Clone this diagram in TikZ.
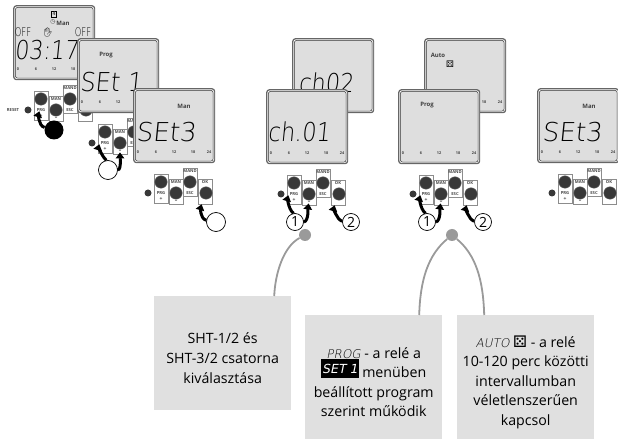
\documentclass[tikz,border=0pt]{standalone}
\usepackage{fontspec}
\setmainfont{Open Sans}
\newfontfamily\lcdfont[FakeSlant=0.1]{DejaVu Sans ExtraLight}
\newfontfamily\lcdtime[FakeSlant=0.1,FakeStretch=0.85]{DejaVu Sans ExtraLight}
\newfontfamily\lcdset[FakeSlant=0.1,FakeStretch=0.92]{DejaVu Sans ExtraLight}
\newfontfamily\lcdch[FakeSlant=0.1,FakeStretch=0.86]{DejaVu Sans ExtraLight}
\newfontfamily\lcdoff[FakeStretch=0.7]{DejaVu Sans ExtraLight}
\newfontfamily\lcditalic[FakeSlant=0.2]{DejaVu Sans ExtraLight}
\newfontfamily\symfont{DejaVu Sans}
\newfontfamily\emojifont{Noto Emoji}
\usetikzlibrary{arrows.meta}
\definecolor{lcdgray}{HTML}{DEDEDE}
\definecolor{boxgray}{HTML}{E0E0E0}
\definecolor{linkgray}{HTML}{9A9A9A}
\tikzset{
  x=1pt,y=-1pt,
  shellouter/.style={anchor=north west,rounded corners=3pt,fill=black!60,minimum width=82pt,minimum height=75pt,inner sep=0pt},
  shellmid/.style={anchor=north west,rounded corners=2.5pt,fill=white,minimum width=79.6pt,minimum height=72.6pt,inner sep=0pt},
  shellinner/.style={anchor=north west,rounded corners=2pt,fill=lcdgray,draw=black!80,line width=.5pt,minimum width=77.6pt,minimum height=70.6pt,inner sep=0pt},
  axislabel/.style={font=\bfseries\fontsize{3.8}{4}\selectfont,text=black!75,inner sep=0pt},
  modelabel/.style={font=\bfseries\fontsize{6}{7}\selectfont,text=black!75,inner sep=0pt},
  readout/.style={font=\lcdfont\fontsize{26}{26}\selectfont,inner sep=0pt,anchor=center},
  keybox/.style={anchor=north west,draw=black!45,line width=.8pt,fill=white,inner sep=0pt},
  keycap/.style={circle,fill=black!78,draw=black!60,line width=.4pt,minimum size=12.5pt,inner sep=0pt},
  keytext/.style={font=\bfseries\fontsize{4.2}{4.5}\selectfont,text=black!70,inner sep=0pt},
  leddot/.style={circle,fill=black!78,minimum size=7pt,inner sep=0pt},
  pressarrow/.style={line width=3pt,-{Triangle[length=6pt,width=8.5pt]},black},
  blackpress/.style={circle,fill=black,minimum size=19pt,inner sep=0pt},
  whitepress/.style={circle,draw=black,fill=white,line width=.7pt,minimum size=19pt,inner sep=0pt},
  stepmark/.style={circle,draw=black,fill=white,line width=.7pt,minimum size=17pt,inner sep=0pt,font=\fontsize{14}{14}\selectfont},
  infobox/.style={anchor=north west,fill=boxgray,minimum width=137pt,inner sep=0pt},
  infotext/.style={align=center,inner sep=0pt,font=\fontsize{14.2}{19.6}\selectfont},
  linkdot/.style={circle,fill=linkgray,minimum size=12pt,inner sep=0pt},
  linkline/.style={draw=linkgray,line width=1.8pt},
}
\newcommand{\lcdshell}[4]{% name, x, y, axis labels (1 all, 2 last two, 0 none)
  \begin{scope}[shift={(#2,#3)}]
    \node[shellouter] (#1-o) at (0,0) {};
    \node[shellmid] (#1-m) at (1.2,1.2) {};
    \node[shellinner] (#1-i) at (2.2,2.2) {};
    \ifnum#4=1
      \node[axislabel] (#1-a0) at (5,64) {0};
      \node[axislabel] (#1-a1) at (23,64) {6};
      \node[axislabel] (#1-a2) at (41,64) {12};
    \fi
    \ifnum#4>0
      \node[axislabel] (#1-a3) at (60,64) {18};
      \node[axislabel] (#1-a4) at (76,64) {24};
    \fi
  \end{scope}}
\newcommand{\keypad}[3]{% prefix, x, y of the screen
  \begin{scope}[shift={(#2,#3)}]
    \node[leddot] (#1-led) at (15,105) {};
    \node[keybox,minimum width=14pt,minimum height=29pt] (#1-bp) at (21,86) {};
    \node[keybox,minimum width=14pt,minimum height=25pt] (#1-bm) at (36,91) {};
    \node[keybox,minimum width=14pt,minimum height=28pt] (#1-bd) at (50,80) {};
    \node[keybox,minimum width=14pt,minimum height=25pt] (#1-bo) at (65,91) {};
    \node[keytext] (#1-t1) at (28,105) {PRG};
    \node[keytext,font=\bfseries\fontsize{5}{5}\selectfont] (#1-t2) at (28,111) {+};
    \node[keytext] (#1-t3) at (43,94) {MAN};
    \node[keytext,font=\bfseries\fontsize{5}{5}\selectfont] (#1-t4) at (43,113.5) {--};
    \node[keytext] (#1-t5) at (57,83) {MAND};
    \node[keytext] (#1-t6) at (57,105) {ESC};
    \node[keytext] (#1-t7) at (72,94) {OK};
    \node[keycap] (#1-prg) at (28,94) {};
    \node[keycap] (#1-man) at (43,105) {};
    \node[keycap] (#1-mand) at (57,94) {};
    \node[keycap] (#1-ok) at (73,105) {};
  \end{scope}}
\begin{document}
\begin{tikzpicture}
\useasboundingbox (0,0) rectangle (618,443);
% --- first sequence
\lcdshell{sa}{13}{5}{1}
\node[keytext,font=\bfseries\fontsize{5}{5}\selectfont,draw=black,line width=.4pt,inner sep=1pt] (sa-four) at (54,14) {4};
\node[modelabel,font=\symfont\fontsize{6}{6}\selectfont] (sa-clock) at (53,22) {◷};
\node[modelabel] (sa-man) at (63,23) {Man};
\node[font=\lcdoff\fontsize{12}{12}\selectfont,inner sep=0pt] (sa-off1) at (23,32) {OFF};
\node[font=\emojifont\fontsize{9}{9}\selectfont,inner sep=0pt] (sa-hand) at (48,32) {✋};
\node[font=\lcdoff\fontsize{12}{12}\selectfont,inner sep=0pt] (sa-off2) at (83,32) {OFF};
\node[readout,font=\lcdtime\fontsize{26}{26}\selectfont] (sa-time) at (46.5,50) {03:17};
\keypad{ka}{13}{5}
\node[keytext] (ka-reset) at (13,110) {RESET};
\node[blackpress] (pa) at (54,130) {};
\draw[pressarrow,shorten >=6pt] (pa.165) .. controls +(-7,-2) and +(-2,7) .. (ka-prg.south);

\lcdshell{sb}{77}{38}{1}
\node[modelabel] (sb-prog) at (106,55) {Prog};
\node[readout,font=\lcdset\fontsize{26}{26}\selectfont] (sb-set) at (111,82) {SEt 1};
\keypad{kb}{77}{38}
\node[whitepress] (pb) at (108,170) {};
\draw[pressarrow,shorten >=6pt] (pb.100) .. controls +(-6,-6) and +(-2,7) .. ([xshift=-4pt]kb-prg.south);
\draw[pressarrow,shorten >=3pt] (pb.east) .. controls +(4,-1) and +(0,6) .. (kb-man.south);

\lcdshell{sc}{133}{88}{1}
\node[modelabel] (sc-man) at (184,106) {Man};
\node[readout] (sc-set) at (166,132) {SEt3};
\keypad{kc}{133}{88}
\node[whitepress] (pc) at (216,222) {};
\draw[pressarrow,shorten >=5pt] (pc.170) .. controls +(-7,-2) and +(-2,7) .. ([xshift=-3pt]kc-ok.south);

% --- channel selection
\lcdshell{sd}{292}{38}{0}
\node[readout,font=\lcdch\fontsize{26}{26}\selectfont] (sd-ch) at (326,83) {ch02};
\lcdshell{se}{266}{89}{1}
\node[readout,font=\lcdch\fontsize{26}{26}\selectfont] (se-ch) at (299,132) {ch.01};
\keypad{ke}{266}{89}
\node[stepmark] (me1) at (295,222) {1};
\node[stepmark] (me2) at (351,222) {2};
\draw[pressarrow,shorten >=6pt] (me1.100) .. controls +(-6,-5) and +(-2,7) .. ([xshift=-4pt]ke-prg.south);
\draw[pressarrow,shorten >=3pt] (me1.east) .. controls +(5,-1) and +(-1,7) .. (ke-man.south);
\draw[pressarrow,shorten >=5pt] (me2.175) .. controls +(-6,-2) and +(-2,7) .. ([xshift=-3pt]ke-ok.south);

% --- program / auto
\lcdshell{sf}{424}{38}{2}
\node[modelabel] (sf-auto) at (438,55) {Auto};
\node[font=\symfont\fontsize{9}{9}\selectfont,inner sep=0pt] (sf-dice) at (450,64) {⚄};
\lcdshell{sg}{398}{89}{1}
\node[modelabel] (sg-prog) at (427,105) {Prog};
\keypad{kg}{398}{89}
\node[stepmark] (mg1) at (427,222) {1};
\node[stepmark] (mg2) at (483,222) {2};
\draw[pressarrow,shorten >=6pt] (mg1.100) .. controls +(-6,-5) and +(-2,7) .. ([xshift=-4pt]kg-prg.south);
\draw[pressarrow,shorten >=3pt] (mg1.east) .. controls +(5,-1) and +(-1,7) .. (kg-man.south);
\draw[pressarrow,shorten >=5pt] (mg2.175) .. controls +(-6,-2) and +(-2,7) .. ([xshift=-3pt]kg-ok.south);

% --- last screen
\lcdshell{sh}{537}{88}{1}
\node[modelabel] (sh-man) at (589,106) {Man};
\node[readout] (sh-set) at (572,132) {SEt3};
\keypad{kh}{537}{88}

% --- explanation boxes
\node[infobox,minimum height=114pt] (b1) at (154,296) {};
\node[infotext] (t1) at ([yshift=-5pt]b1.center) {SHT-1/2 és\\SHT-3/2 csatorna\\kiválasztása};
\node[infobox,minimum height=124pt] (b2) at (305,315) {};
\node[infotext] (t2) at ([yshift=-5pt]b2.center) {{\lcditalic\fontsize{12}{12}\selectfont PROG} - a relé a\\{\setlength{\fboxsep}{0pt}\colorbox{black}{\rule{0pt}{19pt}\hspace{1pt}\raisebox{4pt}{\textcolor{white}{\lcditalic\bfseries\fontsize{12.5}{12.5}\selectfont SET 1}}\hspace{1pt}}} menüben\\beállított program\\szerint működik};
\node[infobox,minimum height=124pt] (b3) at (457,315) {};
\node[infotext] (t3) at ([yshift=-5pt]b3.center) {{\lcditalic\fontsize{12}{12}\selectfont AUTO} {\symfont\fontsize{16}{16}\selectfont ⚄} - a relé\\10-120 perc közötti\\intervallumban\\véletlenszerűen\\kapcsol};

% --- links
\node[linkdot] (l1) at (305,235) {};
\node[linkdot] (l2) at (452,235) {};
\draw[linkline] (l1) .. controls +(-22,12) and +(1,-22) .. ([xshift=51.5pt]b1.north);
\draw[linkline] (l2) .. controls +(-24,20) and +(1,-35) .. ([xshift=45.5pt]b2.north);
\draw[linkline] (l2) .. controls +(24,20) and +(-1,-35) .. ([xshift=-41.5pt]b3.north);
\end{tikzpicture}
\end{document}
